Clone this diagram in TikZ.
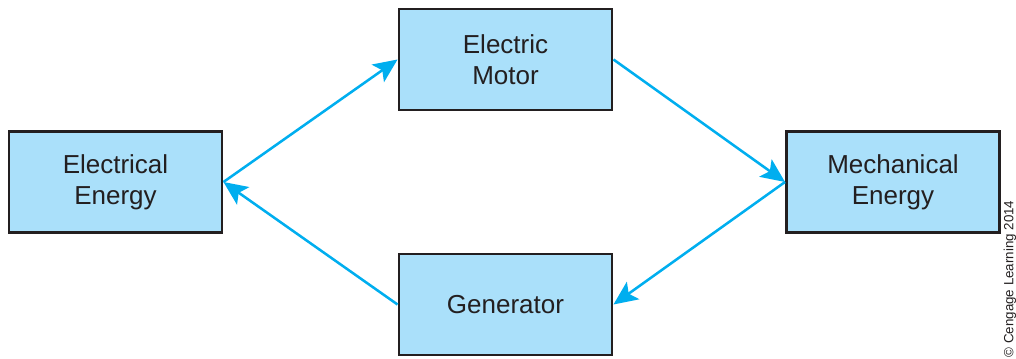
\documentclass[tikz,border=0pt]{standalone}
\usepackage{fontspec}
\setmainfont{Liberation Sans}
\usetikzlibrary{arrows.meta}
\definecolor{boxfill}{RGB}{170,224,250}
\definecolor{boxline}{RGB}{35,31,32}
\definecolor{arrowcol}{RGB}{0,174,239}
\begin{document}
\begin{tikzpicture}[x=0.75pt,y=-0.75pt,
  blockbox/.style={draw=boxline,fill=boxfill,line width=2.2pt,minimum width=159.75pt,minimum height=75.75pt,inner sep=0pt,align=center,font=\fontsize{19.5}{23.5}\selectfont,text=boxline},
  flow/.style={draw=arrowcol,line width=1.9pt,-{Stealth[length=18pt,width=16pt,inset=4pt]}}]
\useasboundingbox (0,0) rectangle (1016,358);
\node[blockbox] (motor) at (505.5,59.5) {Electric\\Motor};
\node[blockbox] (elec) at (115.5,182) {Electrical\\Energy};
\node[blockbox] (mech) at (893,182) {Mechanical\\Energy};
\node[blockbox] (gen) at (505.5,304.5) {Generator};
\draw[flow] (elec.east) -- (motor.west);
\draw[flow] (motor.east) -- (mech.west);
\draw[flow] (mech.west) -- (gen.east);
\draw[flow] (gen.west) -- (elec.east);
\node[rotate=90,font=\fontsize{10}{12}\selectfont,text=boxline,inner sep=0pt] (copy) at (1010,279) {© Cengage Learning 2014};
\end{tikzpicture}
\end{document}
